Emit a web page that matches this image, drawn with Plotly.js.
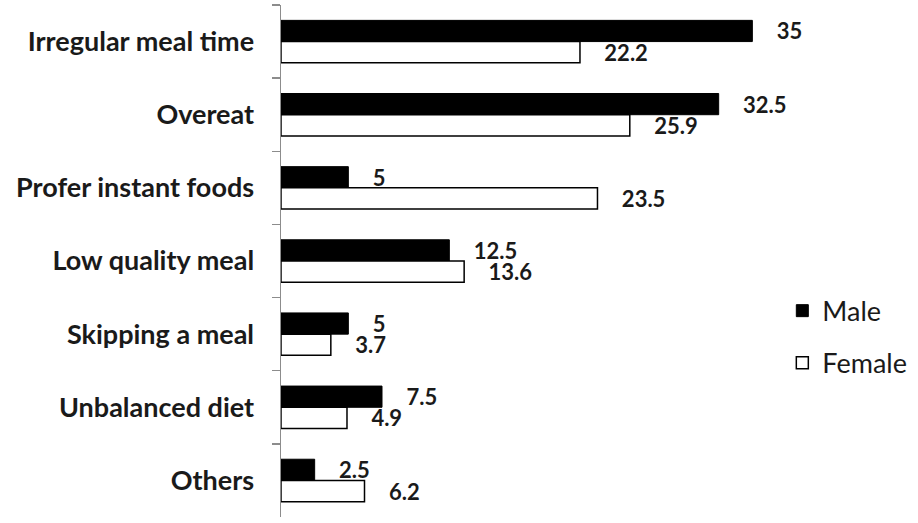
<!DOCTYPE html>
<html>
<head>
<meta charset="utf-8">
<script src="https://cdn.plot.ly/plotly-3.0.1.min.js"></script>
<style>html,body{margin:0;padding:0;background:#fff;}#chart{width:918px;height:523px;}</style>
</head>
<body>
<div id="chart"></div>
<script>
const categories = ["Irregular meal time", "Overeat", "Profer instant foods", "Low quality meal", "Skipping a meal", "Unbalanced diet", "Others"];
const maleValues = [35, 32.5, 5, 12.5, 5, 7.5, 2.5];
const femaleValues = [22.2, 25.9, 23.5, 13.6, 3.7, 4.9, 6.2];
const seriesNames = ["Male", "Female"];

const textFont = {family: "Lato", size: 22, color: "#1a1a1a", weight: "bold"};

const traces = [
  {
    type: "bar", orientation: "h", name: seriesNames[0], legendgroup: "m",
    y: categories, x: maleValues,
    marker: {color: "#000", line: {color: "#000", width: 1}},
    texttemplate: "    %{x}", textposition: "outside", cliponaxis: false, constraintext: "none",
    textfont: textFont, hoverinfo: "skip"
  },
  {
    type: "bar", orientation: "h", name: seriesNames[1], legendgroup: "f",
    y: categories, x: femaleValues,
    marker: {color: "#fff", line: {color: "#000", width: 1.5}},
    texttemplate: "    %{x}", textposition: "outside", cliponaxis: false, constraintext: "none",
    textfont: textFont, hoverinfo: "skip"
  }
];

const layout = {
  width: 918, height: 523,
  margin: {l: 281, r: 0, t: 5, b: 6},
  paper_bgcolor: "#fff", plot_bgcolor: "#fff",
  barmode: "group", bargap: 0.42, bargroupgap: 0,
  showlegend: true,
  legend: {
    x: 0.787, y: 0.45, xanchor: "left", yanchor: "top",
    font: {family: "Lato", size: 27, color: "#1a1a1a"},
    tracegroupgap: 14, bgcolor: "rgba(0,0,0,0)"
  },
  xaxis: {
    range: [0, 47.3], showgrid: false, zeroline: false, showline: false,
    showticklabels: false, ticks: ""
  },
  yaxis: {
    autorange: "reversed", type: "category",
    showline: true, linecolor: "#8c8c8c", linewidth: 1.5,
    ticks: "outside", tickson: "boundaries", ticklen: 8, tickcolor: "#8c8c8c", tickwidth: 1.5,
    ticklabelstandoff: 20,
    tickfont: {family: "Lato", size: 27, color: "#1a1a1a", weight: "bold"},
    showgrid: false, zeroline: false
  }
};

Plotly.newPlot("chart", traces, layout, {displayModeBar: false, staticPlot: true});
</script>
</body>
</html>
